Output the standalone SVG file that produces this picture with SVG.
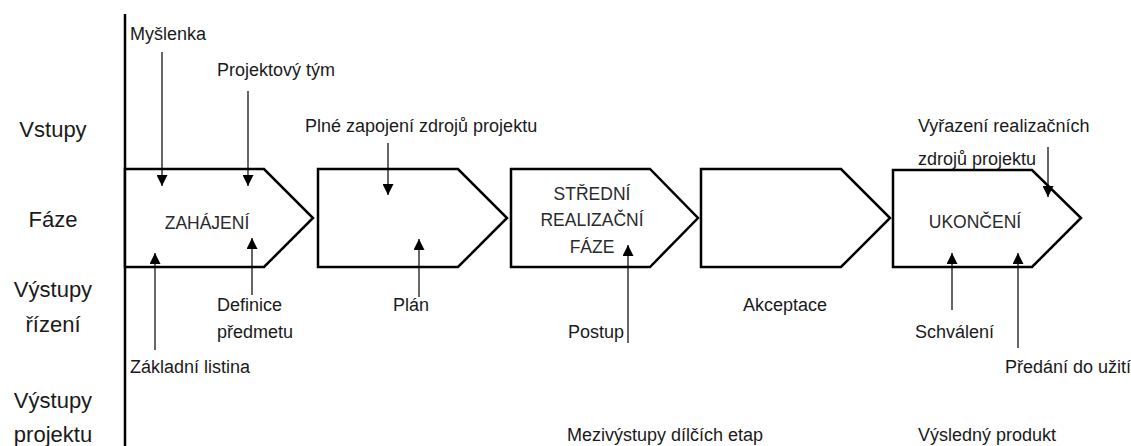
<svg xmlns="http://www.w3.org/2000/svg" width="1131" height="446" viewBox="0 0 1131 446">
  <style>
    text { font-family: "Liberation Sans", Arial, sans-serif; fill: #1a1a1a; }
    .lane { font-size: 22px; text-anchor: middle; }
    .lbl { font-size: 18px; }
    .ph { font-size: 17.5px; text-anchor: middle; fill: #2a2a2a; }
    .phase { fill: #ffffff; stroke: #000; stroke-width: 2.5; stroke-linejoin: miter; }
    .axis { stroke: #000; stroke-width: 2.5; }
    .arr { stroke: #000; stroke-width: 1.2; fill: none; marker-end: url(#head); }
  </style>
  <defs>
    <marker id="head" viewBox="0 0 10 10" refX="10" refY="5" markerWidth="11" markerHeight="11" markerUnits="userSpaceOnUse" orient="auto">
      <path d="M0,0 L10,5 L0,10 Z" fill="#000"/>
    </marker>
  </defs>

  <!-- lane titles -->
  <g id="lanes">
    <text class="lane" x="53" y="137">Vstupy</text>
    <text class="lane" x="53" y="227">Fáze</text>
    <text class="lane" x="53" y="297">Výstupy</text>
    <text class="lane" x="53" y="332">řízení</text>
    <text class="lane" x="53" y="408">Výstupy</text>
    <text class="lane" x="53" y="442">projektu</text>
  </g>

  <!-- vertical axis -->
  <line class="axis" x1="125" y1="14" x2="125" y2="446"/>

  <!-- phases -->
  <g id="phase-zahajeni">
    <polygon class="phase" points="125,169 264,169 313,218 264,267 125,267"/>
    <text class="ph" x="207" y="229">ZAHÁJENÍ</text>
  </g>
  <g id="phase-2">
    <polygon class="phase" points="318,169 458,169 507,218 458,267 318,267"/>
  </g>
  <g id="phase-stredni">
    <polygon class="phase" points="511,169 650,169 698,218 650,267 511,267"/>
    <text class="ph" x="592" y="200">STŘEDNÍ</text>
    <text class="ph" x="592" y="226">REALIZAČNÍ</text>
    <text class="ph" x="592" y="253">FÁZE</text>
  </g>
  <g id="phase-4">
    <polygon class="phase" points="701,169 841,169 890,218 841,267 701,267"/>
  </g>
  <g id="phase-ukonceni">
    <polygon class="phase" points="893,170 1032,170 1081,218 1032,267 893,267"/>
    <text class="ph" x="975" y="228">UKONČENÍ</text>
  </g>

  <!-- connectors -->
  <g id="connectors">
    <line class="arr" x1="162" y1="52" x2="162" y2="186"/>
    <line class="arr" x1="248" y1="91" x2="248" y2="186"/>
    <line class="arr" x1="388" y1="143" x2="388" y2="195"/>
    <line class="arr" x1="419" y1="297" x2="419" y2="239"/>
    <line class="arr" x1="155" y1="350" x2="155" y2="253"/>
    <line class="arr" x1="252" y1="295" x2="252" y2="238"/>
    <line class="arr" x1="628" y1="343" x2="628" y2="245"/>
    <line class="arr" x1="1048" y1="147" x2="1048" y2="197"/>
    <line class="arr" x1="952" y1="310" x2="952" y2="253"/>
    <line class="arr" x1="1018" y1="348" x2="1018" y2="253"/>
  </g>

  <!-- labels -->
  <g id="labels">
    <text class="lbl" x="130" y="40">Myšlenka</text>
    <text class="lbl" x="217" y="76">Projektový tým</text>
    <text class="lbl" x="305" y="132">Plné zapojení zdrojů projektu</text>
    <text class="lbl" x="918" y="132">Vyřazení realizačních</text>
    <text class="lbl" x="918" y="165">zdrojů projektu</text>
    <text class="lbl" x="217" y="311">Definice</text>
    <text class="lbl" x="217" y="338">předmetu</text>
    <text class="lbl" x="130" y="373">Základní listina</text>
    <text class="lbl" x="393" y="311">Plán</text>
    <text class="lbl" x="568" y="338">Postup</text>
    <text class="lbl" x="743" y="311">Akceptace</text>
    <text class="lbl" x="915" y="338">Schválení</text>
    <text class="lbl" x="1005" y="373">Předání do užití</text>
    <text class="lbl" x="567" y="441">Mezivýstupy dílčích etap</text>
    <text class="lbl" x="918" y="441">Výsledný produkt</text>
  </g>
</svg>
